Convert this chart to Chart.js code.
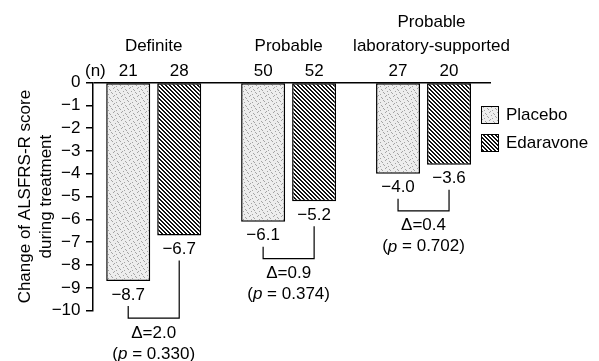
<!DOCTYPE html>
<html>
<head>
<meta charset="utf-8">
<script src="https://cdn.jsdelivr.net/npm/chart.js@4"></script>
<style>
  html, body { margin: 0; padding: 0; background: #fff; }
</style>
</head>
<body>
<canvas id="myChart" width="599" height="361"></canvas>
<script>
// values
const groups = [['Definite'], ['Probable'], ['Probable', 'laboratory-supported']];
const placebo = [-8.7, -6.1, -4.0];
const edaravone = [-6.7, -5.2, -3.6];
const nPlacebo = [21, 50, 27];
const nEdaravone = [28, 52, 20];
const deltas = ['2.0', '0.9', '0.4'];
const pValues = ['0.330', '0.374', '0.702'];
const yTicks = [0, -1, -2, -3, -4, -5, -6, -7, -8, -9, -10];

const FAMILY = '"Liberation Sans", Arial, sans-serif';
Chart.defaults.font.family = FAMILY;
Chart.defaults.font.size = 17;
Chart.defaults.color = '#000';

function dotPattern() {
    const c = document.createElement('canvas');
    c.width = 8; c.height = 8;
    const g = c.getContext('2d');
    g.fillStyle = '#ededed';
    g.fillRect(0, 0, 8, 8);
    g.fillStyle = '#a3a3a3';
    [[1, 0], [5, 1], [6, 2], [3, 3], [7, 4], [0, 5], [4, 6], [2, 7]].forEach(p => g.fillRect(p[0], p[1], 1, 1));
    return g.createPattern(c, 'repeat');
}

function hatchPattern() {
    const c = document.createElement('canvas');
    c.width = 4; c.height = 4;
    const g = c.getContext('2d');
    g.fillStyle = '#fff';
    g.fillRect(0, 0, 4, 4);
    g.fillStyle = '#111';
    for (let y = 0; y < 4; y++) {
        for (let x = 0; x < 4; x++) {
            if ((((x - y) % 4) + 4) % 4 < 2) g.fillRect(x, y, 1, 1);
        }
    }
    return g.createPattern(c, 'repeat');
}

const dots = dotPattern();
const hatch = hatchPattern();

const fmt = v => (v < 0 ? '\u2212' : '') + Math.abs(v).toFixed(1);

const annotations = {
    id: 'annotations',
    afterDraw(chart) {
        const ctx = chart.ctx;
        const xs = chart.scales.x;
        const pb = chart.getDatasetMeta(0).data;
        const ed = chart.getDatasetMeta(1).data;
        ctx.save();
        ctx.fillStyle = '#000';
        ctx.strokeStyle = '#000';
        ctx.font = '17px ' + FAMILY;
        ctx.textBaseline = 'middle';
        ctx.textAlign = 'center';

        // group titles
        groups.forEach((lines, i) => {
            const cx = xs.getPixelForValue(i + 1) + (lines.length > 1 ? 8 : 0);
            lines.forEach((t, k) => {
                ctx.fillText(t, cx, 46 - (lines.length - 1 - k) * 24);
            });
        });

        // n row
        ctx.textAlign = 'left';
        ctx.fillText('(n)', 85, 71);
        ctx.textAlign = 'center';
        pb.forEach((b, i) => {
            ctx.fillText(String(nPlacebo[i]), b.x, 71);
            ctx.fillText(String(nEdaravone[i]), ed[i].x, 71);
        });

        // value labels, brackets, delta and p
        ctx.lineWidth = 1.2;
        pb.forEach((b, i) => {
            const e = ed[i];
            ctx.fillText(fmt(placebo[i]), b.x, b.y + 14);
            ctx.fillText(fmt(edaravone[i]), e.x, e.y + 14);
            const low = Math.max(b.y, e.y);
            const hy = low + 37;
            ctx.beginPath();
            ctx.moveTo(b.x, b.y + 25);
            ctx.lineTo(b.x, hy);
            ctx.lineTo(e.x, hy);
            ctx.lineTo(e.x, e.y + 25);
            ctx.stroke();
            const cx = (b.x + e.x) / 2;
            ctx.fillText('\u0394=' + deltas[i], cx, hy + 15);
            // (p = x.xxx) with italic p
            const a = '(', pp = 'p', rest = ' = ' + pValues[i] + ')';
            const wa = ctx.measureText(a).width;
            const wr = ctx.measureText(rest).width;
            ctx.font = 'italic 17px ' + FAMILY;
            const wp = ctx.measureText(pp).width;
            ctx.font = '17px ' + FAMILY;
            let sx = cx - (wa + wp + wr) / 2;
            const py = hy + 36;
            ctx.textAlign = 'left';
            ctx.fillText(a, sx, py);
            ctx.font = 'italic 17px ' + FAMILY;
            ctx.fillText(pp, sx + wa, py);
            ctx.font = '17px ' + FAMILY;
            ctx.fillText(rest, sx + wa + wp, py);
            ctx.textAlign = 'center';
        });

        // legend
        const items = [[chart.data.datasets[0].label, dots], [chart.data.datasets[1].label, hatch]];
        ctx.textAlign = 'left';
        ctx.lineWidth = 1;
        items.forEach((it, k) => {
            const top = 106 + k * 28;
            ctx.fillStyle = it[1];
            ctx.fillRect(481, top, 18, 18);
            ctx.strokeRect(481.5, top + 0.5, 17, 17);
            ctx.fillStyle = '#000';
            ctx.fillText(it[0], 506, top + 9);
        });
        ctx.restore();
    }
};

const ctx = document.getElementById('myChart').getContext('2d');

const myChart = new Chart(ctx, {
    type: 'bar',
    data: {
        datasets: [{
            label: 'Placebo',
            data: placebo.map((v, i) => ({ x: i + 1, y: v })),
            backgroundColor: dots,
            borderColor: '#000',
            borderWidth: 1.5,
            borderSkipped: false,
            categoryPercentage: 0.756,
            barPercentage: 0.863
        }, {
            label: 'Edaravone',
            data: edaravone.map((v, i) => ({ x: i + 1, y: v })),
            backgroundColor: hatch,
            borderColor: '#000',
            borderWidth: 1.5,
            borderSkipped: false,
            categoryPercentage: 0.756,
            barPercentage: 0.863
        }]
    },
    options: {
        responsive: false,
        animation: false,
        events: [],
        layout: { padding: { top: 82.5, bottom: 50.3, left: 0, right: 108 } },
        plugins: { legend: { display: false }, tooltip: { enabled: false } },
        scales: {
            x: {
                type: 'linear',
                min: 0.55,
                max: 3.5,
                offset: false,
                display: false,
                ticks: { stepSize: 1, includeBounds: false }
            },
            y: {
                min: -10,
                max: 0,
                afterBuildTicks: s => { s.ticks = yTicks.map(v => ({ value: v })); },
                afterFit: s => { s.width = 93; },
                border: { display: true, color: '#000', width: 1.5 },
                grid: {
                    drawOnChartArea: true,
                    color: c => (c.tick && c.tick.value === 0 ? '#000' : 'rgba(0,0,0,0)'),
                    lineWidth: 1.5,
                    tickLength: 7,
                    tickColor: '#000',
                    tickWidth: 1.5
                },
                ticks: {
                    color: '#000',
                    padding: 5.5,
                    autoSkip: false,
                    font: { size: 17 },
                    callback: v => (v === 0 ? '0' : '\u2212' + Math.abs(v))
                },
                title: {
                    display: true,
                    text: ['Change of ALSFRS-R score', 'during treatment'],
                    color: '#000',
                    font: { size: 17, lineHeight: 21 / 17 },
                    padding: { top: 14.5, bottom: 0 }
                }
            }
        }
    },
    plugins: [annotations]
});
</script>
</body>
</html>
